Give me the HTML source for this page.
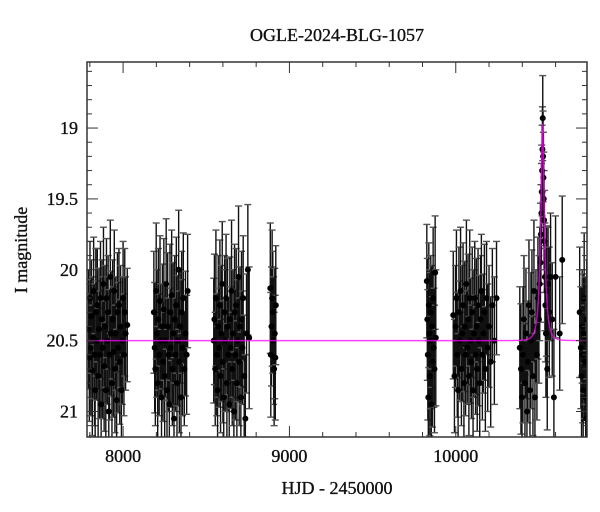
<!DOCTYPE html>
<html><head><meta charset="utf-8"><style>
html,body{margin:0;padding:0;background:#fff;}
svg{display:block;font-family:"Liberation Serif",serif;}
.lbl{stroke:#111;stroke-width:0.35px;}
</style></head><body>
<svg id="chart" width="600" height="512" viewBox="0 0 600 512">
<rect x="0" y="0" width="600" height="512" fill="#fff"/>
<text class="lbl" x="337" y="41" text-anchor="middle" font-size="18" fill="#111">OGLE-2024-BLG-1057</text>
<text class="lbl" x="337" y="494" text-anchor="middle" font-size="18" fill="#111">HJD - 2450000</text>
<text class="lbl" transform="translate(27,250) rotate(-90)" text-anchor="middle" font-size="18" fill="#111">I magnitude</text>
<g id="marks"></g>
<g id="axes"></g>
</svg>
<script>
const xTicks=[8000,9000,10000];
const yTicks=[19,19.5,20,20.5,21];
const yTickLabels=["19","19.5","20","20.5","21"];
const xTickLabels=["8000","9000","10000"];
const modelT0=10522, modelU0=0.25, modelTE=25, modelBase=20.5;
const obsT=[7792,7797,7801,7806,7810,7815,7819,7823,7828,7832,7836,7841,7845,7850,7855,7859,7864,7868,7873,7877,7882,7886,7891,7896,7900,7905,7910,7914,7919,7923,7928,7933,7937,7942,7947,7951,7956,7961,7966,7970,7975,7980,7985,7990,7995,8000,8005,8010,8015,8025,
8185,8190,8194,8199,8203,8208,8212,8217,8222,8226,8231,8236,8240,8245,8250,8254,8259,8264,8268,8273,8278,8282,8287,8292,8296,8301,8306,8310,8315,8320,8324,8329,8334,8338,8343,8348,8352,8357,8362,8368,8375,8382,8388,
8545,8549,8554,8558,8563,8568,8572,8577,8582,8586,8591,8596,8600,8605,8610,8614,8619,8624,8628,8633,8638,8642,8647,8652,8656,8661,8666,8670,8675,8680,8684,8689,8694,8698,8703,8708,8712,8717,8722,8728,8735,8742,8750,8758,
8885,8888,8892,8896,8900,8905,8908,8912,8915,8918,
9826,9829,9832,9835,9838,9841,9844,9847,9850,9853,9856,9860,9864,9868,9872,9876,9880,
9985,9992,9998,10004,10009,10014,10019,10024,10029,10034,10039,10044,10049,10054,10059,10064,10069,10074,10079,10084,10089,10094,10099,10104,10109,10114,10119,10124,10129,10134,10139,10144,10149,10154,10160,10166,10172,10178,10185,10192,10200,10210,10220,10232,10245,
10385,10392,10398,10404,10410,10416,10422,10428,10434,10440,10446,10452,10458,10464,10470,10476,10482,10488,10494,10500,10505,10509,10512,10515,10517,10519,10521,10523,10525,10527,10529,10531,10533,10536,10539,10542,10546,10550,10555,10562,10570,10580,10590,10600,10625,10640,
10745,10752,10756,10760,10763,10766,10769,10772,10775,10778,10781,10784,10787];
const obsMag=[20.42,20.62,20.2,20.55,20.33,20.71,20.48,20.15,20.6,20.85,20.3,20.5,20.25,20.75,20.42,20.6,20.2,20.95,20.35,20.55,20.1,20.68,20.4,20.85,20.2,20.5,20.3,21.0,20.6,20.05,20.45,20.8,20.35,20.58,20.15,20.7,20.45,20.92,20.3,20.55,20.25,20.65,20.4,20.85,20.5,20.2,20.6,20.3,20.45,20.39,
20.3,20.55,20.7,20.15,20.45,20.8,20.35,20.6,20.22,20.5,20.9,20.4,20.65,20.28,20.75,20.5,20.1,20.85,20.4,20.6,20.95,20.3,20.55,20.18,20.7,20.45,21.05,20.35,20.6,20.25,20.8,20.5,20.0,20.65,20.4,20.9,20.3,20.55,20.2,20.7,20.45,20.6,20.15,
20.5,20.35,20.7,20.2,20.6,20.85,20.4,20.55,20.25,20.75,20.45,20.1,20.65,20.9,20.3,20.5,20.2,20.8,20.4,20.6,20.95,20.35,20.55,20.15,20.7,20.45,21.0,20.3,20.6,20.25,20.8,20.5,20.05,20.65,20.4,20.9,20.35,20.55,20.2,20.75,21.05,20.45,20.0,20.48,
20.13,20.6,20.4,20.2,20.3,20.5,20.7,20.45,20.62,20.25,
20.08,20.35,20.6,20.9,20.25,20.45,20.75,20.5,20.3,20.95,20.4,20.65,20.2,20.55,20.7,20.02,20.48,
20.32,20.75,20.4,20.2,20.6,20.85,20.3,20.5,20.15,20.7,20.45,20.25,20.8,20.4,20.6,20.1,20.55,20.35,20.75,20.2,20.5,20.65,20.3,20.85,20.45,20.2,20.6,20.4,20.7,20.25,20.5,20.8,20.35,20.15,20.6,20.45,20.3,20.7,20.2,20.55,20.4,20.65,20.25,20.5,20.2,
20.55,20.7,20.9,20.6,20.35,20.8,20.45,21.0,20.65,20.25,20.85,20.5,20.3,20.75,20.15,20.9,20.4,20.6,20.2,20.35,20.1,19.95,19.75,19.6,19.45,19.3,19.15,18.93,19.2,19.35,19.5,19.65,19.8,20.05,20.25,20.45,20.15,20.7,20.1,20.3,20.05,20.35,20.9,20.05,20.45,19.93,
20.3,20.55,20.75,20.4,20.6,20.85,20.45,20.2,20.65,20.5,20.9,21.05,20.35];
const obsErr=[.42,.45,.4,.48,.4,.46,.43,.38,.5,.4,.45,.42,.4,.48,.43,.45,.4,.45,.42,.5,.4,.46,.43,.48,.42,.45,.4,.5,.46,.4,.44,.48,.42,.46,.43,.45,.4,.5,.42,.46,.4,.44,.43,.46,.45,.4,.43,.45,.4,.4,
.43,.46,.4,.48,.45,.4,.5,.43,.46,.4,.48,.44,.42,.5,.45,.4,.46,.43,.52,.4,.45,.48,.42,.46,.4,.5,.43,.45,.4,.48,.44,.46,.42,.5,.4,.45,.43,.48,.46,.4,.44,.42,.4,
.44,.46,.4,.48,.43,.45,.5,.42,.46,.4,.48,.44,.43,.46,.4,.5,.45,.42,.48,.4,.46,.44,.43,.5,.4,.45,.42,.48,.46,.4,.44,.43,.5,.45,.42,.46,.48,.4,.44,.43,.45,.42,.46,.5,
.46,.44,.42,.48,.43,.45,.4,.46,.44,.42,
.4,.43,.46,.4,.44,.45,.42,.48,.4,.45,.43,.46,.5,.42,.45,.4,.48,
.45,.4,.43,.48,.44,.4,.46,.42,.45,.4,.48,.44,.4,.46,.43,.45,.4,.46,.42,.48,.44,.4,.46,.43,.45,.4,.42,.48,.44,.4,.46,.43,.45,.4,.46,.42,.48,.44,.4,.45,.43,.46,.4,.45,.4,
.43,.46,.4,.48,.45,.42,.46,.5,.43,.46,.4,.48,.44,.42,.5,.45,.4,.46,.43,.45,.4,.42,.35,.35,.33,.32,.3,.3,.32,.32,.33,.35,.36,.38,.4,.45,.46,.43,.4,.46,.45,.4,.48,.43,.4,.45,
.46,.43,.45,.4,.48,.44,.42,.46,.4,.45,.43,.48,.42];
const X0=87,X1=587,Y0=62,Y1=437,xMin=7783,xMax=10789,yMin=18.534,yMax=21.18;
const NS="http://www.w3.org/2000/svg";
function xs(t){return X0+(t-xMin)/(xMax-xMin)*(X1-X0);}
function ys(m){return Y0+(m-yMin)/(yMax-yMin)*(Y1-Y0);}
function mk(tag,attrs,parent){const e=document.createElementNS(NS,tag);for(const k in attrs)e.setAttribute(k,attrs[k]);parent.appendChild(e);return e;}
const marks=document.getElementById('marks');
const axes=document.getElementById('axes');
const clip=mk('clipPath',{id:'pc'},marks);
mk('rect',{x:X0,y:Y0,width:X1-X0,height:Y1-Y0},clip);
const pg=mk('g',{'clip-path':'url(#pc)'},marks);
for(let i=0;i<obsT.length;i++){
  const x=xs(obsT[i]),y=ys(obsMag[i]),y1=ys(obsMag[i]-obsErr[i]),y2=ys(obsMag[i]+obsErr[i]);
  const g=mk('g',{stroke:'#111','stroke-width':1.4},pg);
  
  
  mk('line',{x1:x,y1:y1,x2:x,y2:y2},g);
  mk('line',{x1:x-3.5,y1:y1,x2:x+3.5,y2:y1,stroke:'#555'},g);
  mk('line',{x1:x-3.5,y1:y2,x2:x+3.5,y2:y2,stroke:'#555'},g);
}
for(let i=0;i<obsT.length;i++){
  const c=mk('circle',{cx:xs(obsT[i]),cy:ys(obsMag[i]),r:3,fill:'#000'},pg);
  
  
}
let d='';
for(let t=xMin;t<=xMax;t+=0.5){
  const u=Math.sqrt(modelU0*modelU0+Math.pow((t-modelT0)/modelTE,2));
  const A=(u*u+2)/(u*Math.sqrt(u*u+4));
  const m=modelBase-2.5*Math.log10(A);
  d+=(d?'L':'M')+xs(t).toFixed(2)+','+ys(m).toFixed(2);
}
const model=mk('path',{d:d,fill:'none',stroke:'#ff00ff','stroke-width':1.4,opacity:0.75},pg);


for(let t=7800;t<=xMax;t+=200){
  const major=(t%1000===0),L=major?11:5,x=xs(t);
  const tk=mk('g',{stroke:'#333','stroke-width':1},axes);
  
  
  mk('line',{x1:x,y1:Y1,x2:x,y2:Y1-L},tk);
  mk('line',{x1:x,y1:Y0,x2:x,y2:Y0+L},tk);
}
for(let k=186;k<=211;k++){
  const m=k/10,major=(k%5===0),L=major?11:5,y=ys(m);
  const tk=mk('g',{stroke:'#333','stroke-width':1},axes);
  
  
  mk('line',{x1:X0,y1:y,x2:X0+L,y2:y},tk);
  mk('line',{x1:X1,y1:y,x2:X1-L,y2:y},tk);
}
xTicks.forEach((t,i)=>{
  const tx=mk('text',{x:xs(t),y:Y1+25,'text-anchor':'middle','font-size':18,fill:'#111','class':'lbl'},axes);
  tx.textContent=xTickLabels[i];
  
  
});
yTicks.forEach((m,i)=>{
  const tx=mk('text',{x:X0-9,y:ys(m)+6,'text-anchor':'end','font-size':18,fill:'#111','class':'lbl'},axes);
  tx.textContent=yTickLabels[i];
  
  
});
const fr=mk('rect',{x:X0,y:Y0,width:X1-X0,height:Y1-Y0,fill:'none',stroke:'#333','stroke-width':1.5},axes);


</script>
</body></html>
